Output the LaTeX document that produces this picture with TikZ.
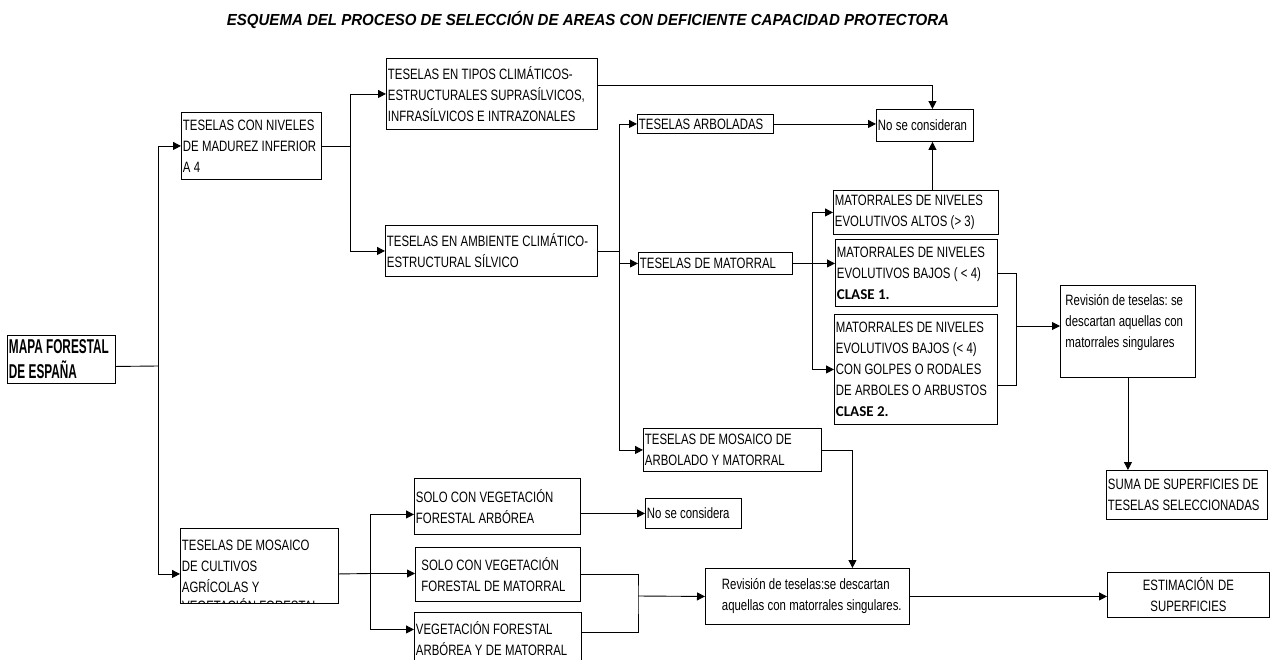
\documentclass[tikz,border=0pt]{standalone}
\usepackage{fontspec}
\setmainfont{Liberation Sans}
\newfontfamily\boxfont[FakeStretch=0.76]{Liberation Sans}
\newfontfamily\mapafont[FakeStretch=0.59]{Liberation Sans}
\newfontfamily\titlefont[FakeStretch=0.94]{Liberation Sans}
\newfontfamily\clasefont{Carlito}
\usetikzlibrary{arrows.meta}

\begin{document}
\begin{tikzpicture}[x=1pt, y=-1pt,
  box/.style={draw, line width=0.9pt, anchor=north west, align=left, inner xsep=1.5pt, inner ysep=1pt, font=\boxfont\fontsize{15}{21}\selectfont, execute at begin node={\frenchspacing\spaceskip=3.3pt plus 1pt minus 0.5pt\relax}},
  link/.style={line width=0.9pt},
  arrow/.style={line width=0.9pt, -{Triangle[length=8pt,width=8pt]}}]
\useasboundingbox (0,0) rectangle (1271,659);

% Title
\node[font=\titlefont\bfseries\itshape\fontsize{16}{19}\selectfont] (title) at (588,20) {ESQUEMA DEL PROCESO DE SELECCIÓN DE AREAS CON DEFICIENTE CAPACIDAD PROTECTORA};

% Root
\node[box, text width=105pt, minimum height=48pt, font=\mapafont\bfseries\fontsize{20}{25}\selectfont] (mapa) at (7,335) {MAPA FORESTAL\\DE ESPAÑA};

% First split
\node[box, text width=137pt, minimum height=67pt] (madurez) at (181,112) {TESELAS CON NIVELES\\DE MADUREZ INFERIOR\\A 4};
\node[box, text width=155pt, minimum height=75pt] (cultivos) at (180,528) {TESELAS DE MOSAICO\\DE CULTIVOS\\AGRÍCOLAS Y};
% last line is cut by the box
\begin{scope}
\clip (cultivos.north west) rectangle (cultivos.south east);
\node[anchor=base west, inner sep=0pt, font=\boxfont\fontsize{15}{21}\selectfont] (cultivosmas) at (182,611) {VEGETACIÓN FORESTAL};
\end{scope}

% Climatic types
\node[box, text width=208pt, minimum height=71pt] (tipos) at (386,58) {TESELAS EN TIPOS CLIMÁTICOS-\\ESTRUCTURALES SUPRASÍLVICOS,\\INFRASÍLVICOS E INTRAZONALES};
\node[box, text width=209pt, minimum height=51pt] (silvico) at (385,225) {TESELAS EN AMBIENTE CLIMÁTICO-\\ESTRUCTURAL SÍLVICO};

% Silvic types
\node[box, text width=133pt, minimum height=19pt] (arboladas) at (637,114) {TESELAS ARBOLADAS};
\node[box, text width=94pt, minimum height=32pt] (noconsideran) at (876,109) {No se consideran};
\node[box, text width=151pt, minimum height=22pt] (matorral) at (638,252) {TESELAS DE MATORRAL};
\node[box, text width=175pt, minimum height=43pt] (mosaico) at (643,428) {TESELAS DE MOSAICO DE\\ARBOLADO Y MATORRAL};

% Shrub classes
\node[box, text width=162pt, minimum height=44pt] (altos) at (833,190) {MATORRALES DE NIVELES\\EVOLUTIVOS ALTOS (> 3)};
\node[box, text width=159pt, minimum height=67pt] (clase1) at (835,239) {MATORRALES DE NIVELES\\EVOLUTIVOS BAJOS ( < 4)\\{\clasefont\bfseries CLASE 1.}};
\node[box, text width=160pt, minimum height=110pt] (clase2) at (834,314) {MATORRALES DE NIVELES\\EVOLUTIVOS BAJOS (< 4)\\CON GOLPES O RODALES\\DE ARBOLES O ARBUSTOS\\{\clasefont\bfseries CLASE 2.}};
\node[box, inner xsep=5pt, text width=125pt, text height=19pt, text depth=71pt] (revision) at (1060,285) {Revisión de teselas: se\\descartan aquellas con\\matorrales singulares};
\node[box, text width=158pt, minimum height=49pt] (suma) at (1106,470) {SUMA DE SUPERFICIES DE\\TESELAS SELECCIONADAS};

% Mosaic branch
\node[box, text width=163pt, minimum height=56pt] (soloarb) at (414,478) {SOLO CON VEGETACIÓN\\FORESTAL ARBÓREA};
\node[box, inner xsep=6pt, text width=153pt, minimum height=54pt] (solomat) at (415,547) {SOLO CON VEGETACIÓN\\FORESTAL DE MATORRAL};
\node[box, text width=164pt, minimum height=52pt] (vegmixta) at (414,612) {VEGETACIÓN FORESTAL\\ARBÓREA Y DE MATORRAL};
\node[box, text width=93pt, minimum height=30pt] (noconsidera) at (645,498) {No se considera};
\node[box, text width=201pt, minimum height=56pt] (revmosaico) at (705,568) {\hspace*{15pt}Revisión de teselas:se descartan\\\hspace*{15pt}aquellas con matorrales singulares.};
\node[box, align=center, text width=159pt, minimum height=45pt] (estimacion) at (1107,572) {ESTIMACIÓN DE\\SUPERFICIES};

% Root split
\coordinate (r1) at (158,366);
\draw[link] ([yshift=-7pt]mapa.east) -- (r1);
\draw[arrow] (r1) |- (madurez.west);
\draw[arrow] (r1) |- ([yshift=-8pt]cultivos.west);

% Maturity split
\coordinate (r2) at (350,145.5);
\draw[link] (madurez.east) -- (madurez.east -| r2);
\draw[arrow] (r2) |- (tipos.west);
\draw[arrow] (r2) |- (silvico.west);
\coordinate (nc) at ([xshift=7.5pt]noconsideran.north);
\draw[arrow] ([yshift=8.5pt]tipos.east) -| (nc);

% Silvic split
\coordinate (r3) at (619,250.5);
\draw[link] (silvico.east) -- (silvico.east -| r3);
\draw[arrow] (r3) |- (arboladas.west);
\draw[arrow] (r3) |- (matorral.west);
\draw[arrow] (r3) |- (mosaico.west);
\draw[arrow] (arboladas.east) -- (arboladas.east -| noconsideran.west);
\coordinate (ns) at ([xshift=7.5pt]noconsideran.south);
\draw[arrow] (altos.north -| ns) -- (ns);

% Shrub split
\coordinate (r4) at (812,263);
\draw[arrow] (matorral.east) -- (matorral.east -| clase1.west);
\draw[arrow] (r4) |- (altos.west);
\draw[arrow] (r4) |- (clase2.west);
\coordinate (r5) at (1016,326);
\draw[link] (clase1.east) -| (r5) |- ([yshift=-16pt]clase2.east);
\draw[arrow] (r5) -- (r5 -| revision.west);
\draw[arrow] (revision.south) -- (revision.south |- suma.north);
\draw[arrow] (mosaico.east) -| ([xshift=45pt]revmosaico.north);

% Mosaic split
\coordinate (r6) at (370,573.5);
\draw[link] ([yshift=-8pt]cultivos.east) -- (r6);
\draw[arrow] (r6) |- ([yshift=-8pt]soloarb.west);
\draw[arrow] (r6) -- (r6 -| solomat.west);
\draw[arrow] (r6) |- ([yshift=9pt]vegmixta.west);
\draw[arrow] (noconsidera.west -| soloarb.east) -- (noconsidera.west);
\coordinate (r7) at (638,596);
\draw[link] (solomat.east) -| (r7) |- ([yshift=6pt]vegmixta.east);
\draw[arrow] (r7) -- (revmosaico.west);
\draw[arrow] (revmosaico.east) -- (revmosaico.east -| estimacion.west);
\end{tikzpicture}
\end{document}
